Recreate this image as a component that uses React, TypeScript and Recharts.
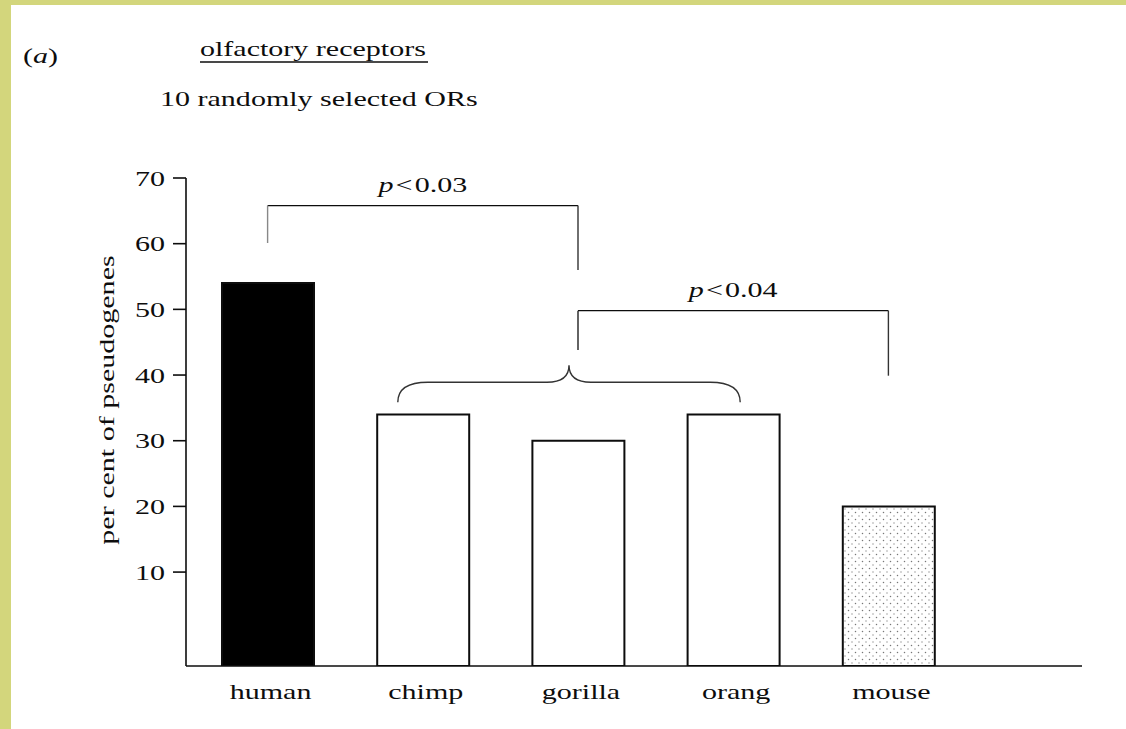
import React from 'react'
import { Bar, BarChart, Cell, Customized, ReferenceLine, XAxis, YAxis } from 'recharts'

// values
const categories = ['human', 'chimp', 'gorilla', 'orang', 'mouse']
const pseudogenePct = [54, 34, 30, 34, 20]
const barFills = ['#000', '#fff', '#fff', '#fff', 'url(#mouseDots)']
const yTicks = [10, 20, 30, 40, 50, 60, 70]
const Y_FLOOR = -4.3

// significance brackets (y in axis units)
const brackets = [
  { from: 'human', to: 'gorilla', top: 65.8, leftEnd: 60.1, rightEnd: 56, p: '0.03', leftColor: '#888' },
  { from: 'gorilla', to: 'mouse', top: 49.8, leftEnd: 43.8, rightEnd: 39.9, p: '0.04', leftColor: '#222' },
]
const brace = { from: 'chimp', to: 'orang', level: 38.9 }

const data = categories.map((name, i) => ({ name, value: pseudogenePct[i] }))

const FONT = '"Liberation Serif", "Times New Roman", serif'
const STRETCH = 1.43
const INK = '#0d0d0d'

function StretchText({ x, y, anchor = 'start', rotate = false, children, size = 21 }: any) {
  return (
    <text transform={`translate(${x},${y})${rotate ? ' rotate(-90)' : ''} scale(${STRETCH},1)`}
      textAnchor={anchor} fontFamily={FONT} fontSize={size} fill={INK}>
      {children}
    </text>
  )
}

const YTick = ({ x, y, payload }: any) => (
  <StretchText x={x} y={y + 7.5} anchor="end">{payload.value}</StretchText>
)

const XTick = ({ x, y, payload }: any) => (
  <StretchText x={x + 3} y={y + 33} anchor="middle">{payload.value}</StretchText>
)

const pLabel = (p: string) => (props: any) => {
  const vb = props.viewBox
  return (
    <StretchText x={vb.x + vb.width / 2} y={vb.y - 13.5} anchor="middle">
      <tspan fontStyle="italic">p</tspan>
      <tspan dx={1.5}>&lt;</tspan>
      <tspan dx={1.5}>{p}</tspan>
    </StretchText>
  )
}

const BraceShape = (props: any) => {
  const { x1, x2, y1 } = props
  const L = x1 - 25
  const R = x2 + 7
  const P = (L + R) / 2
  const y = y1
  const d = `M${L},${y + 20} Q${L},${y} ${L + 30},${y} L${P - 22},${y} Q${P},${y} ${P},${y - 17} ` +
    `Q${P},${y} ${P + 22},${y} L${R - 30},${y} Q${R},${y} ${R},${y + 20}`
  return <path d={d} fill="none" stroke="#333" strokeWidth={1.4} />
}

const Titles = () => (
  <g>
    <StretchText x={23} y={63}>
      (<tspan fontStyle="italic">a</tspan>)
    </StretchText>
    <StretchText x={200} y={56}>olfactory receptors</StretchText>
    <line x1={200} x2={428} y1={62} y2={62} stroke={INK} strokeWidth={1.5} />
    <StretchText x={160} y={106}>10 randomly selected ORs</StretchText>
    <StretchText x={114} y={400} anchor="middle" rotate>per cent of  pseudogenes</StretchText>
  </g>
)

export default function App() {
  return (
    <div style={{ position: 'absolute', left: 0, top: 0, width: 1126, height: 729, background: '#d3d67c' }}>
      <div style={{ position: 'absolute', left: 11, top: 5, right: 0, bottom: 0, background: '#fff' }} />
      <svg width={0} height={0} style={{ position: 'absolute' }}>
        <defs>
          <pattern id="mouseDots" width={7} height={7} patternUnits="userSpaceOnUse">
            <rect width={7} height={7} fill="#fff" />
            <circle cx={1.5} cy={1.5} r={0.75} fill="#777" />
            <circle cx={5} cy={5} r={0.75} fill="#999" />
          </pattern>
        </defs>
      </svg>
      <div style={{ position: 'absolute', left: 0, top: 0 }}>
        <BarChart width={1126} height={729} data={data}
          margin={{ top: 178, right: 44, bottom: 0, left: 0 }}>
          <XAxis dataKey="name" height={63} padding={{ left: 4, right: 116 }}
            tickLine={false} tickSize={0} tickMargin={0} interval={0}
            axisLine={{ stroke: INK, strokeWidth: 1.6 }} tick={<XTick />} />
          <YAxis type="number" width={186} domain={[Y_FLOOR, 70]} ticks={yTicks} interval={0}
            allowDataOverflow tickSize={13} tickMargin={8}
            axisLine={{ stroke: INK, strokeWidth: 1.6 }} tickLine={{ stroke: INK, strokeWidth: 1.6 }}
            tick={<YTick />} />
          <Bar dataKey={(d: any) => [Y_FLOOR, d.value]} barSize={92} stroke={INK} strokeWidth={2}
            isAnimationActive={false}>
            {data.map((d, i) => <Cell key={d.name} fill={barFills[i]} />)}
          </Bar>
          {brackets.map((b) => (
            <ReferenceLine key={b.p} segment={[{ x: b.from, y: b.top }, { x: b.to, y: b.top }]}
              stroke={INK} strokeWidth={1.4} label={pLabel(b.p)} />
          ))}
          {brackets.map((b) => (
            <ReferenceLine key={b.p + 'l'} segment={[{ x: b.from, y: b.leftEnd }, { x: b.from, y: b.top }]}
              stroke={b.leftColor} strokeWidth={1.4} />
          ))}
          {brackets.map((b) => (
            <ReferenceLine key={b.p + 'r'} segment={[{ x: b.to, y: b.rightEnd }, { x: b.to, y: b.top }]}
              stroke="#333" strokeWidth={1.4} />
          ))}
          <ReferenceLine segment={[{ x: brace.from, y: brace.level }, { x: brace.to, y: brace.level }]}
            shape={BraceShape} />
          <Customized component={Titles} />
        </BarChart>
      </div>
    </div>
  )
}
